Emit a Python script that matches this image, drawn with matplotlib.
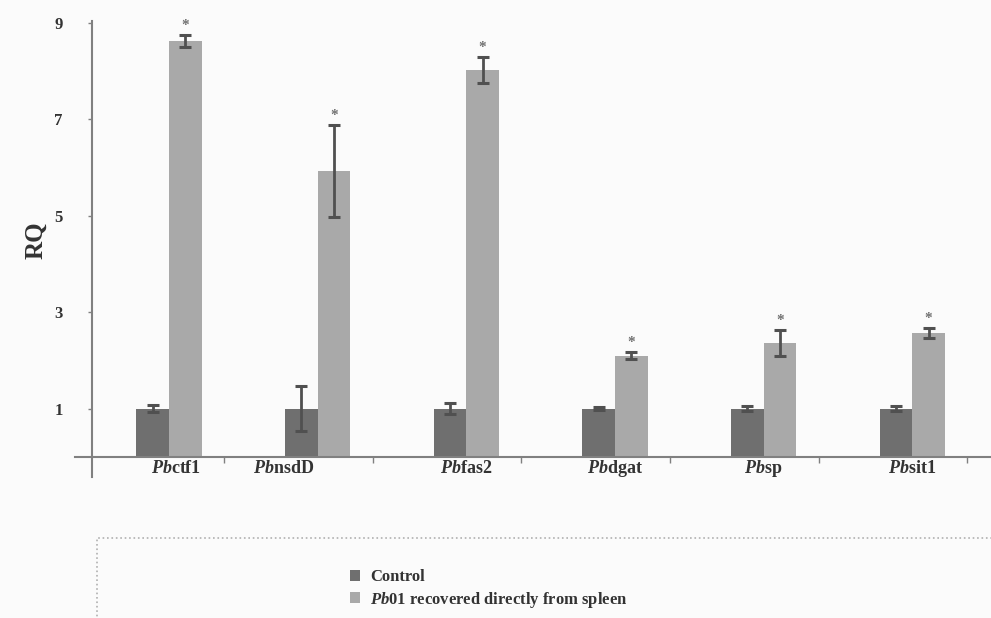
import matplotlib
matplotlib.use("Agg")
import matplotlib.pyplot as plt
from matplotlib.patches import Rectangle, Patch
import numpy as np

plt.rcParams['font.family'] = ['Liberation Serif', 'DejaVu Serif']
plt.rcParams['mathtext.fontset'] = 'custom'
plt.rcParams['mathtext.it'] = 'Liberation Serif:italic:bold'
plt.rcParams['mathtext.rm'] = 'Liberation Serif:bold'
plt.rcParams['mathtext.bf'] = 'Liberation Serif:bold'

genes = [r'$Pb$ctf1', r'$Pb$nsdD', r'$Pb$fas2', r'$Pb$dgat', r'$Pb$sp', r'$Pb$sit1']
control = [1.0, 1.0, 1.0, 1.0, 1.0, 1.0]
control_err = [0.08, 0.47, 0.12, 0.04, 0.05, 0.05]
treated = [8.63, 5.93, 8.02, 2.10, 2.36, 2.57]
treated_err = [0.12, 0.95, 0.27, 0.08, 0.27, 0.10]
series_names = ['Control', r'$Pb$01 recovered directly from spleen']
yticks = [1, 3, 5, 7, 9]
label_shift = [0.05, -0.23, 0.0, 0.0, 0.0, 0.0]

c_ctrl = '#6f6f6f'
c_trt = '#a9a9a9'
c_axis = '#808080'
c_err = '#505050'

fig = plt.figure(figsize=(9.91, 6.18), dpi=100, facecolor='#fbfbfb')
ax = fig.add_axes([92/991, 1-477/618, 1-92/991, (477-21)/618])
ax.set_facecolor('#fbfbfb')

x = np.arange(len(genes))
w = 0.22
ax.bar(x - w/2, control, w, color=c_ctrl, zorder=2)
ax.bar(x + w/2, treated, w, color=c_trt, zorder=2)
ax.errorbar(x - w/2, control, yerr=control_err, fmt='none', ecolor=c_err,
            elinewidth=2, capsize=4, capthick=2.2, zorder=3)
ax.errorbar(x + w/2, treated, yerr=treated_err, fmt='none', ecolor=c_err,
            elinewidth=2, capsize=4, capthick=2.2, zorder=3)
for xi, v, e in zip(x, treated, treated_err):
    ax.text(xi + w/2, v + e + 0.06, '*', ha='center', va='bottom',
            color='#707070', fontsize=11, fontweight='bold')

ax.set_xlim(-0.518, 5.53)
ax.set_ylim(-0.42, 9.04)

for s in ['top', 'right']:
    ax.spines[s].set_visible(False)
ax.spines['left'].set_color(c_axis)
ax.spines['left'].set_linewidth(1.5)
ax.spines['bottom'].set_position(('data', 0))
ax.spines['bottom'].set_color(c_axis)
ax.spines['bottom'].set_linewidth(1.5)
ax.axhline(0, xmin=-0.019, xmax=0, color=c_axis, lw=1.5, clip_on=False)

ax.set_yticks(yticks)
ax.set_yticklabels([str(t) for t in yticks], fontsize=12, fontweight='bold',
                   color='#333333')
ax.tick_params(axis='y', length=3, width=1, color=c_axis, pad=18)

ax.set_xticks(x + np.array(label_shift))
ax.set_xticklabels(genes, fontsize=13, fontweight='bold', color='#333333')
for lbl in ax.get_xticklabels():
    lbl.set_verticalalignment('baseline')
ax.tick_params(axis='x', which='major', length=0, pad=11.5)
ax.set_xticks(x + 0.37, minor=True)
ax.tick_params(axis='x', which='minor', length=4, width=1, color=c_axis, direction='out')

ax.set_ylabel('RQ', fontsize=18, fontweight='bold', color='#333333')
ax.yaxis.set_label_coords(-0.05, 0.52)

fig.patches.append(Rectangle((97/991, -0.01), 0.92, (618-538)/618 + 0.01,
                             transform=fig.transFigure, facecolor='none',
                             edgecolor='#b0b0b0', linestyle=':', lw=1.2))
handles = [Patch(facecolor=c_ctrl), Patch(facecolor=c_trt)]
fig.legend(handles, series_names, loc='upper left',
           bbox_to_anchor=(342/991, 1-561/618), frameon=False,
           prop={'family': 'Liberation Serif', 'weight': 'bold', 'size': 12},
           handlelength=0.6, handleheight=0.6, handletextpad=0.6,
           labelspacing=0.25, borderpad=0, labelcolor='#333333')

fig.savefig('out.png', dpi=100, facecolor=fig.get_facecolor())
